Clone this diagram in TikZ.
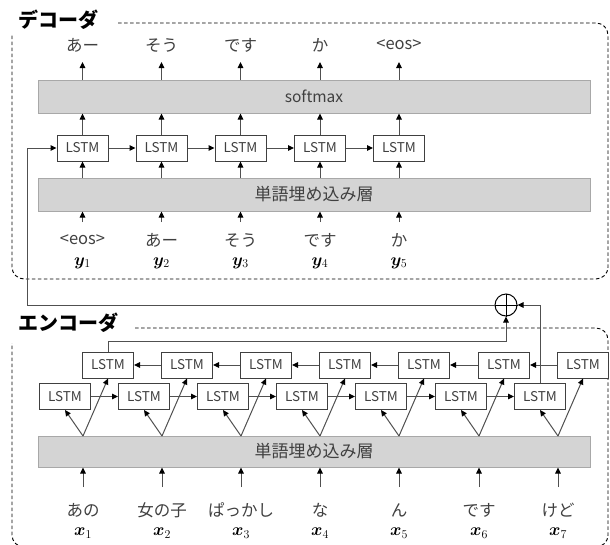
\documentclass[tikz,border=0pt]{standalone}
\usepackage{bm}
\usepackage{fontspec}
\setmainfont{Noto Sans CJK JP}
\usetikzlibrary{arrows.meta}
\definecolor{txt}{HTML}{404040}
\definecolor{boxgray}{HTML}{D4D4D4}
\definecolor{boxedge}{HTML}{A8A8A8}
\definecolor{linegray}{HTML}{505050}
\begin{document}
\begin{tikzpicture}[x=1pt,y=-1pt,
  lstm/.style={draw=txt, fill=white, line width=1pt, minimum width=51pt, minimum height=26pt, inner sep=0pt, font=\fontsize{13.5}{15}\selectfont, text=txt},
  layer/.style={draw=boxedge, fill=boxgray, line width=1pt, minimum width=552pt, inner sep=0pt, font=\fontsize{17}{19}\selectfont, text=txt},
  lbl/.style={font=\fontsize{16.5}{18}\selectfont, text=txt, inner sep=0pt},
  mlbl/.style={font=\fontsize{17}{19}\selectfont, text=black, inner sep=0pt},
  arr/.style={-{Triangle[length=6pt,width=5.5pt,color=black]}, line width=1pt, draw=linegray},
  ttl/.style={font=\fontsize{20}{22}\selectfont\bfseries, inner sep=0pt, anchor=west},
  frame/.style={line width=0.9pt, rounded corners=12pt, dash pattern=on 3.5pt off 2.5pt}
]
\useasboundingbox (0,0) rectangle (610,544);

% ---------------- Decoder ----------------
\node[ttl] (dtitle) at (18,20) {デコーダ};
\draw[frame] (118,23) -- (608,23) -- (608,279) -- (12,279) -- (12,35);

\node[layer, minimum height=33pt] (smax) at (314,96.5) {\fontsize{15.5}{17}\selectfont softmax};
\node[layer, minimum height=33pt] (demb) at (314,194.5) {単語埋め込み層};

\foreach \i/\x/\o/\w in {1/82.5/あー/<eos>, 2/161.5/そう/あー, 3/240.5/です/そう, 4/320/か/です, 5/399/<eos>/か}{
  \node[lstm] (d\i) at (\x,148) {LSTM};
  \node[lbl] (dout\i) at (\x,45) {\o};
  \node[lbl] (dw\i) at (\x,240) {\w};
  \node[mlbl] (dy\i) at (\x,263) {$\bm{y}_{\i}$};
  \coordinate (dtip\i) at (\x,62);
  \coordinate (din\i) at (\x,222);
  \draw[arr] (din\i) -- (demb.south -| din\i);
  \draw[arr] (demb.north -| d\i) -- (d\i.south);
  \draw[arr] (d\i.north) -- (smax.south -| d\i);
  \draw[arr] (smax.north -| d\i) -- (dtip\i);
}
\foreach \i/\j in {1/2,2/3,3/4,4/5}{
  \draw[arr] (d\i.east) -- (d\j.west);
}

% ---------------- Encoder ----------------
\node[ttl] (etitle) at (18,323) {エンコーダ};
\draw[frame] (135,328) -- (608,328) -- (608,547) -- (12,547) -- (12,343);

\node[layer, minimum height=31pt] (eemb) at (314,451.5) {単語埋め込み層};

\foreach \i/\x/\w in {1/83/あの, 2/162/女の子, 3/241/ぱっかし, 4/320/な, 5/399/ん, 6/479/です, 7/558/けど}{
  \node[lstm] (f\i) at (\x-18,396.5) {LSTM};
  \node[lstm] (b\i) at (\x+25,365) {LSTM};
  \node[lbl] (ew\i) at (\x,510) {\w};
  \node[mlbl] (ex\i) at (\x,533) {$\bm{x}_{\i}$};
  \coordinate (ein\i) at (\x,487);
  \coordinate (ev\i) at (\x,436);
  \draw[arr] (ein\i) -- (eemb.south -| ein\i);
  \draw[arr] (ev\i) -- (f\i.south);
  \draw[arr] (ev\i) -- (b\i.south);
}
\foreach \i/\j in {1/2,2/3,3/4,4/5,5/6,6/7}{
  \draw[arr] (f\i.east) -- (f\j.west);
  \draw[arr] (b\j.west) -- (b\i.east);
}

% ---------------- Merge ----------------
\node[circle, draw=black, line width=1pt, minimum size=22pt, inner sep=0pt] (plus) at (506,305) {};
\draw[line width=1pt] (plus.north) -- (plus.south) (plus.west) -- (plus.east);
\draw[arr] (b1.north) -- ++(0,-10) -| (plus.south);
\draw[arr] (f7.north) |- (plus.east);
\coordinate (fb) at (27,305);
\draw[arr] (plus.west) -- (fb) |- (d1.west);
\end{tikzpicture}
\end{document}
